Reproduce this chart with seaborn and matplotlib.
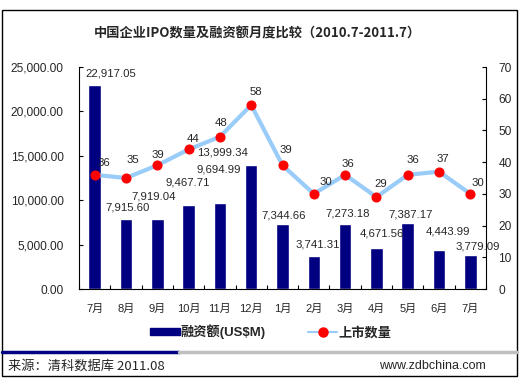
import numpy as np
import pandas as pd
import matplotlib
matplotlib.use("Agg")
import matplotlib.pyplot as plt
import seaborn as sns
from matplotlib.lines import Line2D
from matplotlib.patches import Rectangle

sns.set_style("white")
plt.rcParams["font.family"] = ["Liberation Sans", "Noto Sans CJK SC", "DejaVu Sans"]

# data
months = ["7月", "8月", "9月", "10月", "11月", "12月", "1月", "2月", "3月", "4月", "5月", "6月", "7月"]
amounts = [22917.05, 7915.60, 7919.04, 9467.71, 9694.99, 13999.34, 7344.66,
           3741.31, 7273.18, 4671.56, 7387.17, 4443.99, 3779.09]
counts = [36, 35, 39, 44, 48, 58, 39, 30, 36, 29, 36, 37, 30]

# label nudges in pixels (dx, dy up), as placed in the original
bar_lab_dx = [16, 2, -4, -1, -1, -29, 1, 4, 3, 5, 3, 9, 7]
bar_lab_dy = [12, 11, 22, 22, 33, 12, 8, 11, 11, 14, 9, 18, 9]
cnt_lab_dx = [9, 7, 1, 4, 1, 5, 3, 12, 3, 4, 5, 4, 8]
cnt_lab_dy = [12, 18, 10, 10, 14, 13, 15, 12, 11, 13, 15, 13, 11]

NAVY = "#000080"
LINE = "#99CCF8"
RED = "#FF0000"

W, H = 520, 378
fig = plt.figure(figsize=(W / 100, H / 100), dpi=100)

# outer frame + footer rule
fig.add_artist(Rectangle((2 / W, 1 - 376 / H), 515 / W, 366 / H, transform=fig.transFigure,
                         fill=False, lw=1, ec="black"))
fig.add_artist(Line2D([2 / W, 179 / W], [1 - 352 / H] * 2, transform=fig.transFigure,
                      color=NAVY, lw=2.5))
fig.add_artist(Line2D([179 / W, 517 / W], [1 - 352 / H] * 2, transform=fig.transFigure,
                      color="#BFBFBF", lw=2.5))

fig.text(257 / W, 1 - 33 / H, "中国企业IPO数量及融资额月度比较（2010.7-2011.7）",
         ha="center", va="center", fontsize=9.5, fontweight="bold",
         family=["Noto Sans CJK SC", "DejaVu Sans"])
fig.text(8 / W, 1 - 366 / H, "来源：清科数据库 2011.08", ha="left", va="center",
         fontsize=9.5, family=["Noto Sans CJK SC", "DejaVu Sans"])
fig.text(486 / W, 1 - 366 / H, "www.zdbchina.com", ha="right", va="center", fontsize=9)

ax = fig.add_axes([79 / W, 1 - 289 / H, (486 - 79) / W, (289 - 67) / H])
df = pd.DataFrame({"month": range(len(months)), "amount": amounts, "count": counts})
sns.barplot(data=df, x="month", y="amount", color=NAVY, width=0.4,
            saturation=1, ax=ax)
ax.set_ylim(0, 25000)
ax.set_xlim(-0.5, len(months) - 0.5)
ax.set_yticks(np.arange(0, 25001, 5000))
ax.set_yticklabels([f"{v:,.2f}" for v in np.arange(0, 25001, 5000)], fontsize=8.6)
ax.set_xticks(np.arange(len(months)))
ax.set_xticklabels(months, fontsize=8, family=["Liberation Sans", "Noto Sans CJK SC"])
ax.tick_params(axis="x", length=0, pad=11)
ax.set_xticks(np.arange(-0.5, len(months), 1), minor=True)
ax.tick_params(axis="x", which="minor", direction="in", length=3, bottom=True,
               color="black", width=0.8)
ax.tick_params(axis="y", direction="in", length=3, left=True, pad=11,
               color="black", width=0.8)
ax.set_xlabel("")
ax.set_ylabel("")
for s in ["top", "right"]:
    ax.spines[s].set_visible(False)
for s in ["left", "bottom"]:
    ax.spines[s].set_color("black")
for i, v in enumerate(amounts):
    ax.annotate(f"{v:,.2f}", (i, v), xytext=(bar_lab_dx[i], bar_lab_dy[i]),
                textcoords="offset pixels", ha="center", va="center", fontsize=8.2)

ax2 = ax.twinx()
sns.lineplot(data=df, x="month", y="count", color=LINE, lw=3, marker="o",
             markersize=6.5, markerfacecolor=RED, markeredgecolor=RED, ax=ax2)
ax2.set_ylim(0, 70)
ax2.set_yticks(np.arange(0, 71, 10))
ax2.tick_params(axis="y", direction="in", length=3, right=True, labelsize=8.6, pad=9,
                color="black", width=0.8)
ax2.set_ylabel("")
ax2.set_xlabel("")
for s in ["top", "left", "bottom"]:
    ax2.spines[s].set_visible(False)
ax2.spines["right"].set_color("black")
for i, c in enumerate(counts):
    ax2.annotate(str(c), (i, c), xytext=(cnt_lab_dx[i], cnt_lab_dy[i]),
                 textcoords="offset pixels", ha="center", va="center", fontsize=8.2)
ax.set_zorder(1)
ax2.set_zorder(2)

handles = [Rectangle((0, 0), 1, 1, color=NAVY),
           Line2D([], [], color=LINE, lw=1.5, marker="o", markersize=6.5,
                  markerfacecolor=RED, markeredgecolor=RED)]
fig.legend(handles, ["融资额(US$M)", "上市数量"], loc="center",
           bbox_to_anchor=(271 / W, 1 - 332 / H), ncol=2, frameon=False,
           columnspacing=3.2, handlelength=2.2, handleheight=0.5, handletextpad=0.1,
           prop={"family": ["Liberation Sans", "Noto Sans CJK SC"], "weight": "bold", "size": 9.5})

fig.savefig("out.png", dpi=100)
